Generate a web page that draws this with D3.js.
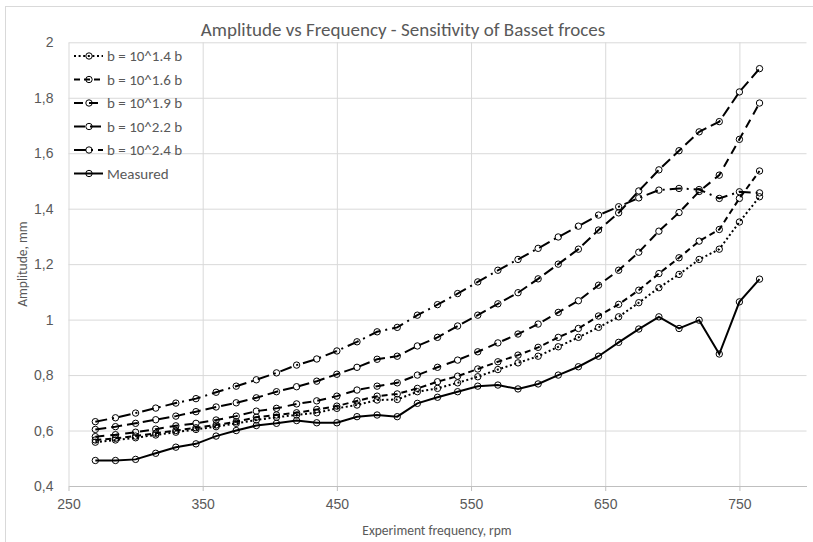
<!DOCTYPE html>
<html>
<head>
<meta charset="utf-8">
<script src="https://cdn.jsdelivr.net/npm/d3@7"></script>
<style>
  body { margin: 0; background: #fff; }
  svg { display: block; font-family: Carlito, Lato, "Open Sans", sans-serif; }
  .grid line { stroke: #d9d9d9; stroke-width: 1; }
  .grid .domain { display: none; }
  .lbl { fill: #595959; }
</style>
</head>
<body>
<div id="chart"></div>
<script>
const w = 813;
const h = 542;

// experiment frequency, rpm
const freq = [270, 285, 300, 315, 330, 345, 360, 375, 390, 405, 420, 435, 450, 465, 480, 495, 510,
  525, 540, 555, 570, 585, 600, 615, 630, 645, 660, 675, 690, 705, 720, 735, 750, 765];

// amplitude, mm
const b14 = [0.558, 0.566, 0.574, 0.584, 0.594, 0.604, 0.614, 0.626, 0.638, 0.648, 0.656, 0.664, 0.680,
  0.692, 0.710, 0.712, 0.740, 0.752, 0.772, 0.794, 0.820, 0.844, 0.868, 0.902, 0.936, 0.972, 1.010,
  1.061, 1.115, 1.163, 1.217, 1.254, 1.352, 1.443];
const b16 = [0.566, 0.572, 0.580, 0.590, 0.600, 0.610, 0.620, 0.632, 0.648, 0.656, 0.664, 0.676, 0.688,
  0.707, 0.724, 0.732, 0.752, 0.776, 0.796, 0.822, 0.848, 0.872, 0.900, 0.936, 0.968, 1.013, 1.055,
  1.106, 1.166, 1.223, 1.283, 1.325, 1.437, 1.536];
const b19 = [0.578, 0.585, 0.594, 0.605, 0.617, 0.626, 0.638, 0.652, 0.670, 0.680, 0.696, 0.707, 0.724,
  0.746, 0.760, 0.772, 0.800, 0.828, 0.854, 0.884, 0.916, 0.948, 0.984, 1.026, 1.068, 1.124, 1.178,
  1.243, 1.319, 1.386, 1.462, 1.521, 1.650, 1.781];
const b22 = [0.604, 0.614, 0.626, 0.639, 0.652, 0.668, 0.685, 0.700, 0.718, 0.740, 0.758, 0.778, 0.803,
  0.828, 0.857, 0.868, 0.905, 0.936, 0.977, 1.016, 1.057, 1.097, 1.147, 1.200, 1.254, 1.323, 1.385,
  1.464, 1.540, 1.609, 1.677, 1.714, 1.821, 1.905];
const b24 = [0.632, 0.646, 0.663, 0.681, 0.699, 0.715, 0.738, 0.760, 0.783, 0.808, 0.836, 0.858, 0.887,
  0.920, 0.956, 0.972, 1.016, 1.054, 1.094, 1.136, 1.178, 1.217, 1.257, 1.298, 1.337, 1.377, 1.407,
  1.439, 1.467, 1.473, 1.469, 1.437, 1.461, 1.457];
const measured = [0.492, 0.492, 0.496, 0.518, 0.540, 0.552, 0.580, 0.600, 0.618, 0.626, 0.636, 0.628,
  0.628, 0.650, 0.656, 0.650, 0.698, 0.720, 0.740, 0.760, 0.764, 0.750, 0.768, 0.800, 0.830, 0.868,
  0.918, 0.966, 1.010, 0.968, 0.998, 0.876, 1.064, 1.146];

const seriesNames = ["b = 10^1.4 b", "b = 10^1.6 b", "b = 10^1.9 b", "b  = 10^2.2 b", "b = 10^2.4 b", "Measured"];
const seriesValues = [b14, b16, b19, b22, b24, measured];
const dashes = ["2,2.6", "6,4", "9,6", "11,5", "12,5,2,5", null];

const xTicks = [250, 350, 450, 550, 650, 750];
const yTicks = [0.4, 0.6, 0.8, 1, 1.2, 1.4, 1.6, 1.8, 2];

const svg = d3.select("#chart")
  .append("svg")
  .attr("width", w)
  .attr("height", h);

// outer chart border
svg.append("rect")
  .attr("x", 5.5).attr("y", 6.5)
  .attr("width", w + 20).attr("height", h + 20)
  .attr("fill", "none").attr("stroke", "#d9d9d9");

const x = d3.scaleLinear().domain([250, 800]).range([68.5, 806.5]);
const y = d3.scaleLinear().domain([0.4, 2]).range([486, 42.3]);

// gridlines
svg.append("g")
  .attr("class", "grid")
  .attr("transform", `translate(${x(250)},0)`)
  .call(d3.axisLeft(y).tickValues(yTicks.slice(1)).tickSize(-(x(800) - x(250))).tickFormat(""));
svg.append("g")
  .attr("class", "grid")
  .attr("transform", `translate(0,${y(0.4)})`)
  .call(d3.axisBottom(x).tickValues(xTicks.slice(1)).tickSize(-(y(0.4) - y(2))).tickFormat(""));

// axes
const xAxis = svg.append("g")
  .attr("transform", `translate(0,${y(0.4)})`)
  .call(d3.axisBottom(x).tickValues(xTicks).tickSize(5).tickSizeOuter(0).tickPadding(8));
xAxis.select(".domain").attr("stroke", "#bfbfbf");
xAxis.selectAll(".tick line").attr("stroke", "#bfbfbf");
xAxis.selectAll("text").attr("class", "lbl").attr("font-size", 14).attr("font-family", null);

const yAxis = svg.append("g")
  .attr("transform", `translate(${x(250)},0)`)
  .call(d3.axisLeft(y).tickValues(yTicks).tickSize(0).tickPadding(15)
    .tickFormat(d => String(+d.toFixed(1)).replace(".", ",")));
yAxis.select(".domain").attr("stroke", "#d9d9d9");
yAxis.selectAll("text").attr("class", "lbl").attr("font-size", 14).attr("font-family", null);

// series
const line = d3.line().x((d, i) => x(freq[i])).y(d => y(d));

seriesValues.forEach((vals, s) => {
  svg.append("path")
    .datum(vals)
    .attr("d", line)
    .attr("fill", "none")
    .attr("stroke", "#000")
    .attr("stroke-width", 2)
    .attr("stroke-dasharray", dashes[s]);
  svg.append("g")
    .selectAll("circle")
    .data(vals)
    .enter()
    .append("circle")
    .attr("cx", (d, i) => x(freq[i]))
    .attr("cy", d => y(d))
    .attr("r", 3.2)
    .attr("fill", "none")
    .attr("stroke", "#000")
    .attr("stroke-width", 1);
});

// legend
const legend = svg.append("g");
seriesNames.forEach((name, s) => {
  const ly = 56 + s * 23.5;
  legend.append("line")
    .attr("x1", 74).attr("x2", 103)
    .attr("y1", ly).attr("y2", ly)
    .attr("stroke", "#000").attr("stroke-width", 2)
    .attr("stroke-dasharray", dashes[s]);
  legend.append("circle")
    .attr("cx", 89).attr("cy", ly).attr("r", 3.2)
    .attr("fill", "none").attr("stroke", "#000");
  legend.append("text")
    .attr("class", "lbl")
    .attr("x", 107).attr("y", ly)
    .attr("dy", "0.35em")
    .attr("font-size", 15)
    .text(name);
});

// titles
svg.append("text")
  .attr("class", "lbl")
  .attr("x", 403).attr("y", 29)
  .attr("dy", "0.35em")
  .attr("text-anchor", "middle")
  .attr("font-size", 19)
  .text("Amplitude vs Frequency - Sensitivity of Basset froces");

svg.append("text")
  .attr("class", "lbl")
  .attr("x", 437).attr("y", 530)
  .attr("dy", "0.35em")
  .attr("text-anchor", "middle")
  .attr("font-size", 13.5)
  .text("Experiment frequency, rpm");

svg.append("text")
  .attr("class", "lbl")
  .attr("transform", `translate(22,${(y(0.4) + y(2)) / 2}) rotate(-90)`)
  .attr("dy", "0.35em")
  .attr("text-anchor", "middle")
  .attr("font-size", 13.5)
  .text("Amplitude, mm");
</script>
</body>
</html>
